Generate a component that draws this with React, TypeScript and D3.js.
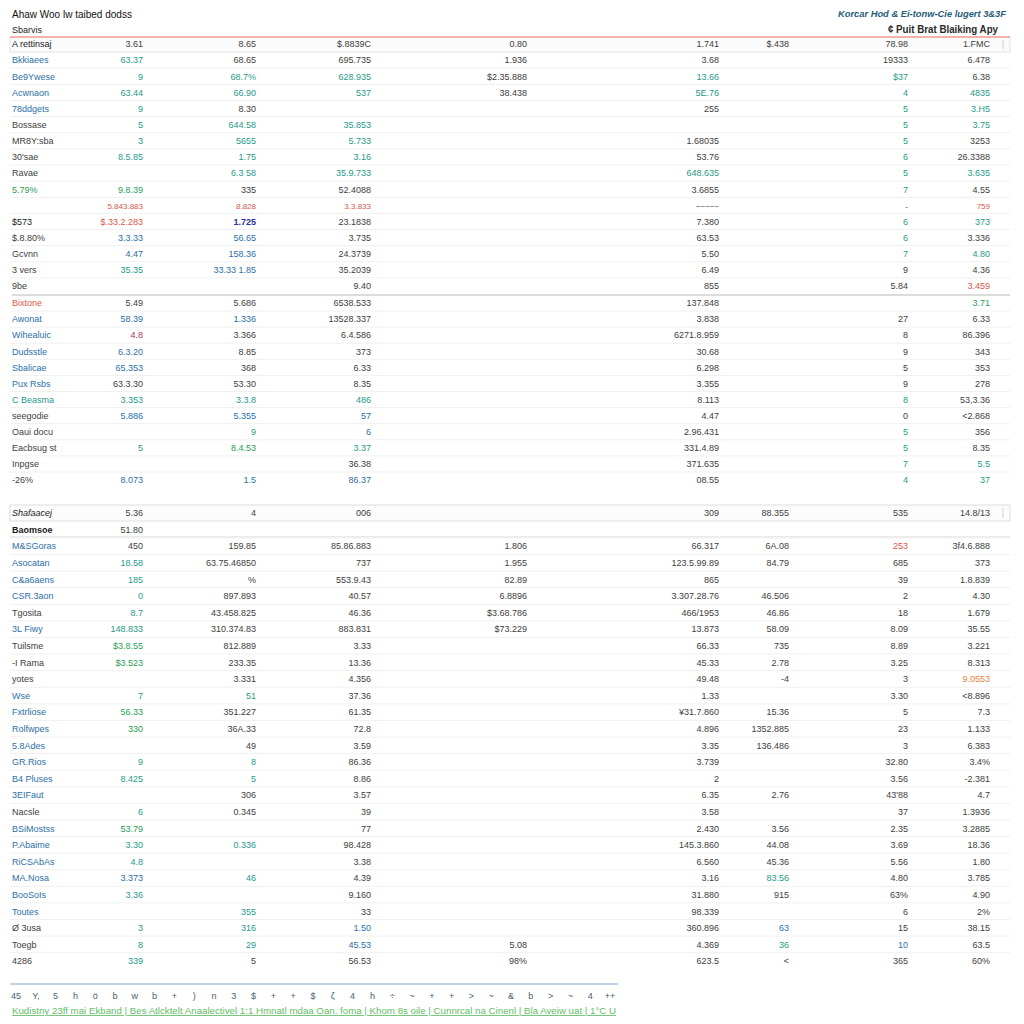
import * as d3 from 'd3';

const W = 1024;
const H = 1024;
const FONT = '"Liberation Sans", Arial, sans-serif';

const TITLE = 'Ahaw Woo lw taibed dodss';
const SUBTITLE = 'Sbarvis';
const TOP_RIGHT_1 = 'Korcar Hod & Ei-tonw-Cie lugert 3&3F';
const TOP_RIGHT_2 = '¢ Puit Brat Blaiking Apy';

const COLS = ['c1', 'c2', 'c3', 'c4', 'c5', 'c6', 'c7', 'c8'];

// section 1 (first row is the boxed header row, row 10 is the small red sub-row)
const S1_LABELS = ['A rettinsaj', 'Bkkiaees', 'Be9Ywese', 'Acwnaon', '78ddgets', 'Bossase', 'MR8Y:sba', "30'sae", 'Ravae', '5.79%', '', '$573', '$.8.80%', 'Gcvnn', '3 vers', '9be'];
const S1_LABEL_TONES = 'dbbbb....g.d....';
const S1_VALUES = [
  ['3.61', '8.65', '$.8839C', '0.80', '1.741', '$.438', '78.98', '1.FMC'],
  ['63.37', '68.65', '695.735', '1.936', '3.68', '', '19333', '6.478'],
  ['9', '68.7%', '628.935', '$2.35.888', '13.66', '', '$37', '6.38'],
  ['63.44', '66.90', '537', '38.438', '5E.76', '', '4', '4835'],
  ['9', '8.30', '', '', '255', '', '5', '3.H5'],
  ['5', '644.58', '35.853', '', '', '', '5', '3.75'],
  ['3', '5655', '5.733', '', '1.68035', '', '5', '3253'],
  ['8.5.85', '1.75', '3.16', '', '53.76', '', '6', '26.3388'],
  ['', '6.3 58', '35.9.733', '', '648.635', '', '5', '3.635'],
  ['9.8.39', '335', '52.4088', '', '3.6855', '', '7', '4.55'],
  ['5.843.883', '8.828', '3.3.833', '', '~~~~~', '', '-', '759'],
  ['$.33.2.283', '1.725', '23.1838', '', '7.380', '', '6', '373'],
  ['3.3.33', '56.65', '3.735', '', '63.53', '', '6', '3.336'],
  ['4.47', '158.36', '24.3739', '', '5.50', '', '7', '4.80'],
  ['35.35', '33.33 1.85', '35.2039', '', '6.49', '', '9', '4.36'],
  ['', '', '9.40', '', '855', '', '5.84', '3.459'],
];
const S1_TONES = ['........', 't.......', 'ttt.t.t.', 'ttt.t.tt', 't.....tt', 'ttt...tt', 'ttt...t.', 'ttt...t.', '.tt.t.tt', 'g.....g.', 'rrr....r', 'rn....tt', 'bb....t.', 'bb....tt', 'tb......', '.......r'];

// section 2
const S2_LABELS = ['Bixtone', 'Awonat', 'Wihealuic', 'Dudsstle', 'Sbalicae', 'Pux Rsbs', 'C Beasma', 'seegodie', 'Oaui docu', 'Eacbsug st', 'Inpgse', '-26%'];
const S2_LABEL_TONES = 'rbbbbbt.....';
const S2_VALUES = [
  ['5.49', '5.686', '6538.533', '', '137.848', '', '', '3.71'],
  ['58.39', '1.336', '13528.337', '', '3.838', '', '27', '6.33'],
  ['4.8', '3.366', '6.4.586', '', '6271.8.959', '', '8', '86.396'],
  ['6.3.20', '8.85', '373', '', '30.68', '', '9', '343'],
  ['65.353', '368', '6.33', '', '6.298', '', '5', '353'],
  ['63.3.30', '53.30', '8.35', '', '3.355', '', '9', '278'],
  ['3.353', '3.3.8', '486', '', '8.113', '', '8', '53,3.36'],
  ['5.886', '5.355', '57', '', '4.47', '', '0', '<2.868'],
  ['', '9', '6', '', '2.96.431', '', '5', '356'],
  ['5', '8.4.53', '3.37', '', '331.4.89', '', '5', '8.35'],
  ['', '', '36.38', '', '371.635', '', '7', '5.5'],
  ['8.073', '1.5', '86.37', '', '08.55', '', '4', '37'],
];
const S2_TONES = ['.......g', 'bb......', 'p.......', 'b.......', 'b.......', '........', 'ttt...t.', 'bbb.....', '.tb...t.', 'tgt...t.', '......tt', 'bbb...tt'];

// section 3 (first row boxed header, second row bold)
const S3_LABELS = ['Shafaacej', 'Baomsoe', 'M&SGoras', 'Asocatan', 'C&a6aens', 'CSR.3aon', 'Tgosita', '3L Fiwy', 'Tuilsme', '-I Rama', 'yotes', 'Wse', 'Fxtrliose', 'Rolfwpes', '5.8Ades', 'GR.Rios', 'B4 Pluses', '3EIFaut', 'Nacsle', 'BSiMostss', 'P.Abaime', 'RiCSAbAs', 'MA.Nosa', 'BooSoIs', 'Toutes', 'Ø 3usa', 'Toegb', '4286'];
const S3_LABEL_TONES = 'ikbbbb.b...bbbbbbb.bbbbbb...';
const S3_VALUES = [
  ['5.36', '4', '006', '', '309', '88.355', '535', '14.8/13'],
  ['51.80', '', '', '', '', '', '', ''],
  ['450', '159.85', '85.86.883', '1.806', '66.317', '6A.08', '253', '3f4.6.888'],
  ['18.58', '63.75.46850', '737', '1.955', '123.5.99.89', '84.79', '685', '373'],
  ['185', '%', '553.9.43', '82.89', '865', '', '39', '1.8.839'],
  ['0', '897.893', '40.57', '6.8896', '3.307.28.76', '46.506', '2', '4.30'],
  ['8.7', '43.458.825', '46.36', '$3.68.786', '466/1953', '46.86', '18', '1.679'],
  ['148.833', '310.374.83', '883.831', '$73.229', '13.873', '58.09', '8.09', '35.55'],
  ['$3.8.55', '812.889', '3.33', '', '66.33', '735', '8.89', '3.221'],
  ['$3.523', '233.35', '13.36', '', '45.33', '2.78', '3.25', '8.313'],
  ['', '3.331', '4.356', '', '49.48', '-4', '3', '9.0553'],
  ['7', '51', '37.36', '', '1.33', '', '3.30', '<8.896'],
  ['56.33', '351.227', '61.35', '', '¥31.7.860', '15.36', '5', '7.3'],
  ['330', '36A.33', '72.8', '', '4.896', '1352.885', '23', '1.133'],
  ['', '49', '3.59', '', '3.35', '136.486', '3', '6.383'],
  ['9', '8', '86.36', '', '3.739', '', '32.80', '3.4%'],
  ['8.425', '5', '8.86', '', '2', '', '3.56', '-2.381'],
  ['', '306', '3.57', '', '6.35', '2.76', "43'88", '4.7'],
  ['6', '0.345', '39', '', '3.58', '', '37', '1.3936'],
  ['53.79', '', '77', '', '2.430', '3.56', '2.35', '3.2885'],
  ['3.30', '0.336', '98.428', '', '145.3.860', '44.08', '3.69', '18.36'],
  ['4.8', '', '3.38', '', '6.560', '45.36', '5.56', '1.80'],
  ['3.373', '46', '4.39', '', '3.16', '83.56', '4.80', '3.785'],
  ['3.36', '', '9.160', '', '31.880', '915', '63%', '4.90'],
  ['', '355', '33', '', '98.339', '', '6', '2%'],
  ['3', '316', '1.50', '', '360.896', '63', '15', '38.15'],
  ['8', '29', '45.53', '5.08', '4.369', '36', '10', '63.5'],
  ['339', '5', '56.53', '98%', '623.5', '<', '365', '60%'],
];
const S3_TONES = ['........', '........', '......r.', 't.......', 't.......', 't.......', 't.......', 't.......', 'g.......', 'g.......', '.......o', 'tt......', 'g.......', 'g.......', '........', 'tt......', 'tt......', '........', 't.......', 'g.......', 'tt......', 't.......', 'bt...t..', 't.......', '.t......', 'ttb..b..', 'ttb..tb.', 't.......'];

const GLYPHS = ['45', 'Y,', '5', 'h', 'ö', 'b', 'w', 'b', '+', ')', 'n', '3', '$', '+', '+', '$', 'ζ', '4', 'h', '÷', '~', '+', '+', '>', '~', '&', 'b', '>', '~', '4', '++'];
const FOOTER_LINKS = ['Kudistny 23ff mai Ekband', 'Bes Atlcktelt Anaalectivel 1:1 Hmnatl mdaa Oan. foma', 'Khom 8s oile', 'Cunnrcal na Cinenl', 'Bla Aveiw uat', '1°C U'];

const TONE: Record<string, string> = {
  '.': '#404040',
  d: '#1a1a1a',
  k: '#1a1a1a',
  i: '#1a1a1a',
  t: '#1f9a8c',
  b: '#2c6fa6',
  g: '#2a9d55',
  r: '#d8574a',
  p: '#b0345a',
  o: '#e6813a',
  n: '#2b2f9c',
};

const xCol = d3.scaleOrdinal<string, number>().domain(COLS).range([143, 256, 371, 527, 719, 789, 908, 990]);
const LABEL_X = 12;
const LEFT = 10;
const RIGHT = 1010;

type Section = {
  labels: string[];
  labelTones: string;
  values: string[][];
  tones: string[];
  y0: number;
  y1: number;
};

const SECTIONS: Section[] = [
  { labels: S1_LABELS, labelTones: S1_LABEL_TONES, values: S1_VALUES, tones: S1_TONES, y0: 44, y1: 286 },
  { labels: S2_LABELS, labelTones: S2_LABEL_TONES, values: S2_VALUES, tones: S2_TONES, y0: 303, y1: 480 },
  { labels: S3_LABELS, labelTones: S3_LABEL_TONES, values: S3_VALUES, tones: S3_TONES, y0: 513, y1: 961 },
];

function SectionRows({ s, si }: { s: Section; si: number }) {
  const y = d3.scalePoint<number>().domain(d3.range(s.labels.length)).range([s.y0, s.y1]);
  const step = y.step();
  return (
    <g>
      {d3.range(s.labels.length - 1).map(i => (
        <line key={'sep' + i} x1={LEFT} x2={RIGHT} y1={(y(i) as number) + step / 2} y2={(y(i) as number) + step / 2} stroke="#f0f0f0" strokeWidth={1} />
      ))}
      {s.labels.map((lab, i) => {
        const cy = y(i) as number;
        const lt = s.labelTones[i] || '.';
        const sub = lab === '' && si === 0;
        return (
          <g key={i}>
            <text
              x={LABEL_X}
              y={cy + 3.3}
              fontSize={9}
              fill={TONE[lt]}
              fontWeight={lt === 'k' ? 'bold' : 'normal'}
              fontStyle={lt === 'i' ? 'italic' : 'normal'}
            >
              {lab}
            </text>
            {s.values[i].map((v, j) => {
              const tc = s.tones[i][j] || '.';
              return v ? (
                <text
                  key={j}
                  x={xCol(COLS[j])}
                  y={cy + 3.3}
                  textAnchor="end"
                  fontSize={sub ? 8 : 9}
                  fill={TONE[tc]}
                  fontWeight={tc === 'n' ? 'bold' : 'normal'}
                >
                  {v}
                </text>
              ) : null;
            })}
          </g>
        );
      })}
    </g>
  );
}

export default function App() {
  const gx = d3.scalePoint<number>().domain(d3.range(GLYPHS.length)).range([16, 610]);
  const footerText = FOOTER_LINKS.join(' | ');
  return (
    <svg width={W} height={H} style={{ position: 'absolute', left: 0, top: 0 }} fontFamily={FONT}>
      <rect width={W} height={H} fill="#ffffff" />

      <text x={12} y={18} fontSize={10} fill="#111" fontWeight={500}>{TITLE}</text>
      <text x={12} y={33} fontSize={9} fill="#222">{SUBTITLE}</text>
      <text x={1006} y={17} fontSize={9.5} fill="#245c78" fontWeight="bold" fontStyle="italic" textAnchor="end" textLength={168} lengthAdjust="spacingAndGlyphs">{TOP_RIGHT_1}</text>
      <text x={998} y={33} fontSize={10} fill="#2a2a2a" fontWeight="bold" textAnchor="end" textLength={110} lengthAdjust="spacingAndGlyphs">{TOP_RIGHT_2}</text>

      {/* header box of section 1 */}
      <rect x={LEFT} y={37} width={RIGHT - LEFT} height={15} fill="#fbfbfb" stroke="#e2e2e2" />
      <line x1={LEFT} x2={RIGHT} y1={37} y2={37} stroke="#f0a095" strokeWidth={1.5} />
      <line x1={1003} x2={1003} y1={40} y2={49} stroke="#cfcfcf" />

      {/* section 1 / 2 divider */}
      <line x1={12} x2={RIGHT} y1={295} y2={295} stroke="#dcdcdc" strokeWidth={2} />

      {/* header box of section 3 */}
      <rect x={LEFT} y={505} width={RIGHT - LEFT} height={16} fill="#fcfcfc" stroke="#dedede" />
      <line x1={1003} x2={1003} y1={508} y2={518} stroke="#cfcfcf" />
      <line x1={LEFT} x2={RIGHT} y1={537} y2={537} stroke="#e4e4e4" strokeWidth={1.5} />

      {SECTIONS.map((s, si) => <SectionRows key={si} s={s} si={si} />)}

      {/* bottom strip */}
      <line x1={LEFT} x2={618} y1={984} y2={984} stroke="#a8c3dc" strokeWidth={1.5} />
      {GLYPHS.map((g, i) => (
        <text key={i} x={gx(i)} y={999} fontSize={9} fill="#4a6070" textAnchor="middle">{g}</text>
      ))}
      <text x={12} y={1014} fontSize={8.5} fill="#62bd66" textDecoration="underline" textLength={604} lengthAdjust="spacingAndGlyphs">{footerText}</text>
    </svg>
  );
}
